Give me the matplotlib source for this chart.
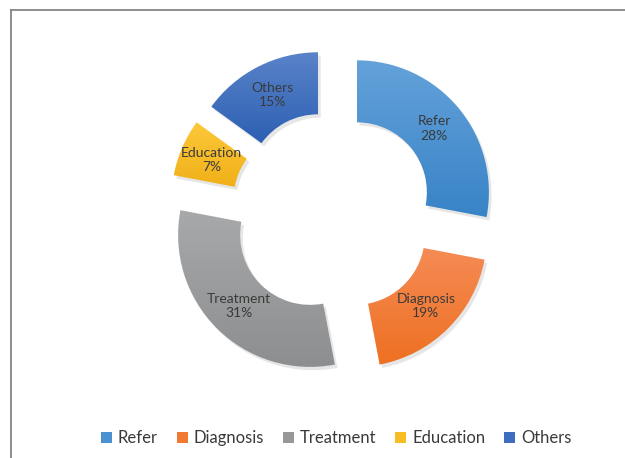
import numpy as np
import matplotlib.pyplot as plt
from matplotlib.colors import LinearSegmentedColormap
from matplotlib.lines import Line2D
from matplotlib.patches import Patch

# chart data
categories = ['Refer', 'Diagnosis', 'Treatment', 'Education', 'Others']
shares = [28, 19, 31, 7, 15]
top_colors = ['#64a2da', '#f58b55', '#a8a9aa', '#fdc83a', '#5a83c9']
bottom_colors = ['#3883c7', '#ee7022', '#8d8e8f', '#f0b018', '#2c60b3']
legend_colors = ['#4a91d1', '#f07a34', '#989899', '#f8bd25', '#3d6dbe']

plt.rcParams['font.family'] = ['Lato', 'DejaVu Sans']

fig = plt.figure(figsize=(6.25, 4.58), dpi=100)
ax = fig.add_axes([0, 0, 1, 1])
R_PX = 132.0
cx, cy = 332.5, 212.5
ax.axis('off')

# frame (top and left lines, like the cropped chart box)
ax.add_line(Line2D([(10.5 - cx) / R_PX, 5], [(cy - 10) / R_PX] * 2,
                   color='#858585', lw=1.3))
ax.add_line(Line2D([(10.5 - cx) / R_PX] * 2, [(cy - 10) / R_PX, -5],
                   color='#858585', lw=1.3))

explode = [0.24] * len(shares)
wedges, _ = ax.pie(shares, startangle=90, counterclock=False,
                   explode=explode, radius=1.0,
                   wedgeprops=dict(width=0.47, linewidth=0, alpha=0),
                   normalize=True)

# soft shadow copies
shadow, _ = ax.pie(shares, startangle=90, counterclock=False,
                   explode=explode, radius=1.0,
                   center=(0.02, -0.025),
                   wedgeprops=dict(width=0.47, linewidth=0, color='#b8b8b8'),
                   normalize=True)
for s in shadow:
    s.set_alpha(0.35)
    s.set_zorder(1)

grad = np.linspace(0, 1, 256).reshape(-1, 1)
for w, c0, c1, name, v in zip(wedges, top_colors, bottom_colors, categories, shares):
    cmap = LinearSegmentedColormap.from_list(name, [c0, c1])
    bb = w.get_path().transformed(w.get_patch_transform()).get_extents()
    im = ax.imshow(grad, cmap=cmap, aspect='auto', zorder=2,
                   extent=[bb.x0, bb.x1, bb.y0, bb.y1], origin='upper')
    w.set_alpha(None)
    w.set_facecolor('none')
    im.set_clip_path(w)

    mid = np.deg2rad((w.theta1 + w.theta2) / 2)
    rx, ry = w.center
    r_lab = 0.76
    ax.text(rx + r_lab * np.cos(mid), ry + r_lab * np.sin(mid),
            f'{name}\n{v}%', ha='center', va='center', fontsize=10,
            color='#3a3a3a', zorder=3, linespacing=1.25)

ax.set_xlim(-cx / R_PX, (625 - cx) / R_PX)
ax.set_ylim(-(458 - cy) / R_PX, cy / R_PX)
ax.set_aspect('auto')

handles = [Patch(facecolor=c, edgecolor='none') for c in legend_colors]
fig.legend(handles, categories, loc='center', bbox_to_anchor=(0.538, 1 - 438 / 458),
           ncol=5, frameon=False, fontsize=12, handlelength=0.65, handleheight=0.65,
           handletextpad=0.35, columnspacing=1.15, labelcolor='#3a3a3a')

fig.savefig('out.png', dpi=100, facecolor='white')
